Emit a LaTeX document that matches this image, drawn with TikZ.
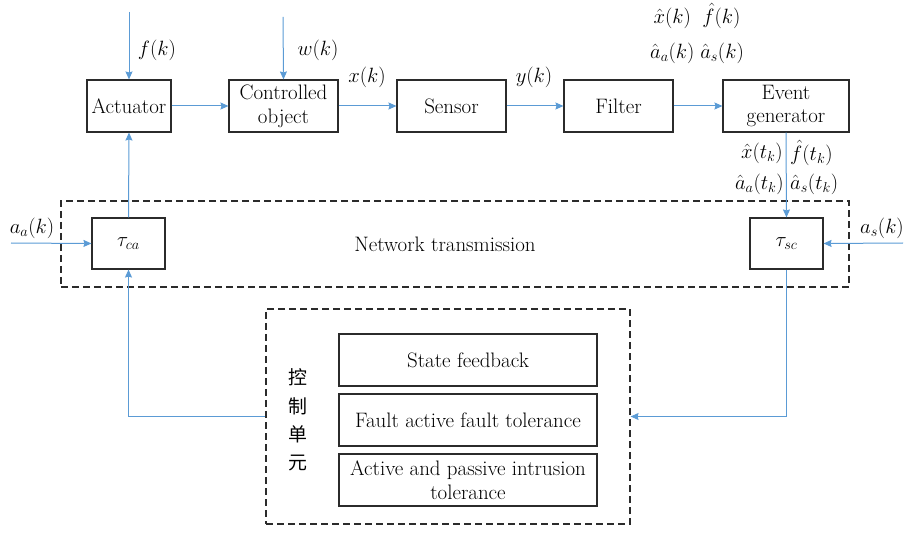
\documentclass[tikz,border=0pt]{standalone}
\usepackage{fontspec}
\newfontfamily\cjk{Noto Sans CJK SC}
\usetikzlibrary{arrows.meta}
\definecolor{linkblue}{HTML}{5B9BD5}
\definecolor{boxline}{HTML}{2B2B2B}
\begin{document}
\begin{tikzpicture}[x=1bp,y=-1bp,
  every node/.style={font=\fontsize{21}{24}\selectfont, inner sep=0pt},
  blk/.style={draw=boxline, line width=1.1bp, rectangle, minimum height=52bp, align=center},
  dbox/.style={draw=boxline, line width=1.1bp, dash pattern=on 7bp off 4bp, rectangle},
  arr/.style={draw=linkblue, line width=1bp, -{Stealth[length=8bp,width=7bp,inset=1bp]}},
  lbl/.style={font=\fontsize{20.5}{24}\selectfont}]
\useasboundingbox (0,0) rectangle (904,533);

% forward chain
\node[blk, minimum width=84bp]  (act) at (129,106)   {Actuator};
\node[blk, minimum width=109bp] (obj) at (283.5,106) {Controlled\\object};
\node[blk, minimum width=109bp] (sen) at (451.5,106) {Sensor};
\node[blk, minimum width=109bp] (fil) at (618.5,106) {Filter};
\node[blk, minimum width=126bp] (evg) at (786,106)   {Event\\generator};

% network layer
\node[dbox, minimum width=788bp, minimum height=86bp] (net) at (455,244) {};
\node (nettxt) at (445,244) {Network transmission};
\node[blk, minimum width=73bp, minimum height=51bp] (tca) at (128.5,243.5) {$\tau_{ca}$};
\node[blk, minimum width=73bp, minimum height=51bp] (tsc) at (786.5,243.5) {$\tau_{sc}$};

% control unit
\node[dbox, minimum width=364bp, minimum height=215bp] (ctrl) at (448,416.5) {};
\node[blk, minimum width=258bp] (sf) at (468,360) {State feedback};
\node[blk, minimum width=258bp] (fa) at (468,420) {Fault active fault tolerance};
\node[blk, minimum width=258bp] (ai) at (468,480) {Active and passive intrusion\\tolerance};
\node[align=center, font=\cjk\fontsize{19}{28.5}\selectfont] (cu) at (298,420) {控\\制\\单\\元};

% free ends of the inputs
\coordinate (fin) at (129,12);
\coordinate (win) at (283,17);
\coordinate (aain) at (11,243);
\coordinate (asin) at (903,243);

% connectors
\draw[arr] (fin) -- (act.north);
\draw[arr] (win) -- (obj.north);
\draw[arr] (act.east) -- (obj.west);
\draw[arr] (obj.east) -- (sen.west);
\draw[arr] (sen.east) -- (fil.west);
\draw[arr] (fil.east) -- (evg.west);
\draw[arr] (evg.south) -- (tsc.north);
\draw[arr] (tca.north) -- (act.south);
\draw[arr] (aain) -- (tca.west);
\draw[arr] (asin) -- (tsc.east);
\draw[arr] (tsc.south) |- (ctrl.east);
\draw[arr] (ctrl.west) -| (tca.south);

% signal labels
\node[lbl] (lf) at (157,50) {$f(k)$};
\node[lbl] (lw) at (318,50) {$w(k)$};
\node[lbl] (lx) at (367,77) {$x(k)$};
\node[lbl] (ly) at (534,77) {$y(k)$};
\node[lbl] (lest1) at (697,16) {$\hat{x}(k)\;\;\hat{f}(k)$};
\node[lbl] (lest2) at (697,53) {$\hat{a}_a(k)\;\hat{a}_s(k)$};
\node[lbl, anchor=east] (lxt) at (783,153) {$\hat{x}(t_k)$};
\node[lbl, anchor=west] (lft) at (790,153) {$\hat{f}(t_k)$};
\node[lbl, anchor=east] (lat) at (784,184) {$\hat{a}_a(t_k)$};
\node[lbl, anchor=west] (lst) at (790,184) {$\hat{a}_s(t_k)$};
\node[lbl] (laa) at (32,228) {$a_a(k)$};
\node[lbl] (las) at (882,228) {$a_s(k)$};
\end{tikzpicture}
\end{document}
